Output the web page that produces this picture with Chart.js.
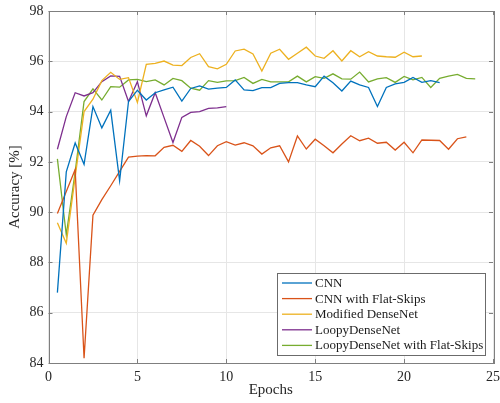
<!DOCTYPE html>
<html>
<head>
<meta charset="utf-8">
<script src="https://cdn.jsdelivr.net/npm/chart.js@4"></script>
<style>
  html, body { margin: 0; padding: 0; background: #fff; }
  #wrap { width: 500px; height: 403px; }
</style>
</head>
<body>
<div id="wrap"><canvas id="myChart"></canvas></div>
<script>
// epochs (x) for each sample, 0.5 apart
const epochs = [0.5, 1, 1.5, 2, 2.5, 3, 3.5, 4, 4.5, 5, 5.5, 6, 6.5, 7, 7.5, 8, 8.5, 9, 9.5, 10,
    10.5, 11, 11.5, 12, 12.5, 13, 13.5, 14, 14.5, 15, 15.5, 16, 16.5, 17, 17.5, 18, 18.5, 19, 19.5, 20,
    20.5, 21, 21.5, 22, 22.5, 23, 23.5, 24]

const seriesNames = ['CNN', 'CNN with Flat-Skips', 'Modified DenseNet', 'LoopyDenseNet', 'LoopyDenseNet with Flat-Skips']

const cnn = [86.8, 91.6, 92.75, 91.9, 94.2, 93.35, 94.05, 91.25, 94.4, 94.85,
    94.46, 94.75, 94.86, 94.97, 94.42, 94.92, 95.02, 94.89, 94.93, 94.96,
    95.26, 94.86, 94.83, 94.95, 94.95, 95.12, 95.15, 95.15, 95.06, 94.99,
    95.41, 95.15, 94.82, 95.21, 95.06, 94.96, 94.2, 94.96, 95.1, 95.16,
    95.36, 95.16, 95.23, 95.15]

const cnnFlat = [89.95, 90.82, 91.7, 84.19, 89.88, 90.5, 91.05, 91.62, 92.19, 92.23,
    92.25, 92.24, 92.58, 92.66, 92.42, 92.85, 92.62, 92.25, 92.64, 92.8,
    92.67, 92.76, 92.64, 92.31, 92.56, 92.64, 92.0, 93.03, 92.51, 92.9,
    92.64, 92.36, 92.71, 93.04, 92.84, 92.94, 92.74, 92.78, 92.47, 92.78,
    92.36, 92.87, 92.86, 92.85, 92.5, 92.92, 92.99]

const modDense = [89.58, 88.76, 91.4, 94.0, 94.49, 95.23, 95.56, 95.28, 95.35, 94.36,
    95.88, 95.92, 96.01, 95.85, 95.83, 96.15, 96.3, 95.79, 95.7, 95.88,
    96.41, 96.48, 96.29, 95.61, 96.32, 96.48, 96.08, 96.32, 96.56, 96.21,
    96.12, 96.42, 96.01, 96.42, 96.18, 96.38, 96.21, 96.18, 96.16, 96.36,
    96.18, 96.21]

const loopy = [92.5, 93.8, 94.75, 94.62, 94.75, 95.19, 95.42, 95.4, 94.4, 95.19,
    93.83, 94.75, 93.76, 92.77, 93.77, 93.97, 94.0, 94.13, 94.15, 94.2]

const loopyFlat = [92.12, 89.1, 91.6, 94.4, 94.9, 94.46, 94.99, 94.97, 95.26, 95.28,
    95.19, 95.26, 95.06, 95.32, 95.23, 94.93, 94.85, 95.23, 95.16, 95.22,
    95.23, 95.36, 95.12, 95.28, 95.18, 95.18, 95.18, 95.41, 95.18, 95.39,
    95.32, 95.5, 95.3, 95.29, 95.57, 95.18, 95.3, 95.35, 95.16, 95.4,
    95.26, 95.36, 94.96, 95.32, 95.41, 95.48, 95.32, 95.3]

const xTicks = [0, 5, 10, 15, 20, 25]
const yTicks = [84, 86, 88, 90, 92, 94, 96, 98]

const colors = ['#0072BD', '#D95319', '#EDB120', '#7E2F8E', '#77AC30']
const allSeries = [cnn, cnnFlat, modDense, loopy, loopyFlat]

const serif = "'Liberation Serif', 'Times New Roman', serif"
const axisGray = '#7f7f7f'

// box, inward ticks and in-plot legend, the way the original figure looks
const boxAndLegend = {
    id: 'boxAndLegend',
    afterDraw(chart) {
        const ctx = chart.ctx
        const { left, right, top, bottom } = chart.chartArea
        const xs = chart.scales.x
        const ys = chart.scales.y
        ctx.save()
        ctx.strokeStyle = axisGray
        ctx.lineWidth = 1
        ctx.strokeRect(Math.round(left) + 0.5, Math.round(top) + 0.5, Math.round(right - left), Math.round(bottom - top))
        const tl = 4
        ctx.beginPath()
        xTicks.forEach(v => {
            const px = Math.round(xs.getPixelForValue(v)) + 0.5
            ctx.moveTo(px, bottom); ctx.lineTo(px, bottom - tl)
            ctx.moveTo(px, top); ctx.lineTo(px, top + tl)
        })
        yTicks.forEach(v => {
            const py = Math.round(ys.getPixelForValue(v)) + 0.5
            ctx.moveTo(left, py); ctx.lineTo(left + tl, py)
            ctx.moveTo(right, py); ctx.lineTo(right - tl, py)
        })
        ctx.stroke()

        // legend
        const lx = 277, ly = 273, lw = 208, lh = 82
        ctx.fillStyle = '#fff'
        ctx.fillRect(lx, ly, lw, lh)
        ctx.strokeStyle = '#6b6b6b'
        ctx.strokeRect(lx + 0.5, ly + 0.5, lw, lh)
        ctx.font = '13px ' + serif
        ctx.textBaseline = 'middle'
        chart.data.datasets.forEach((ds, i) => {
            const cy = ly + 10 + i * 15.6
            ctx.strokeStyle = ds.borderColor
            ctx.lineWidth = 1.3
            ctx.beginPath()
            ctx.moveTo(lx + 5, cy); ctx.lineTo(lx + 35, cy)
            ctx.stroke()
            ctx.fillStyle = '#1a1a1a'
            ctx.fillText(ds.label, lx + 38, cy + 0.5)
        })
        ctx.restore()
    }
}

const ctx = document.getElementById('myChart')

new Chart(ctx, {
    type: 'line',
    data: {
        datasets: allSeries.map((vals, i) => ({
            label: seriesNames[i],
            data: vals.map((v, j) => ({ x: epochs[j], y: v })),
            borderColor: colors[i],
            backgroundColor: colors[i],
            borderWidth: 1.3,
            pointRadius: 0,
            tension: 0,
            fill: false,
        }))
    },
    options: {
        responsive: true,
        maintainAspectRatio: false,
        animation: false,
        layout: { padding: { top: 11, right: 7, left: 0, bottom: 0 } },
        plugins: {
            legend: { display: false },
            tooltip: { enabled: false },
        },
        scales: {
            x: {
                type: 'linear',
                min: 0,
                max: 25,
                afterFit: s => { s.height = 40; s.paddingLeft = 0; s.paddingRight = 0 },
                afterBuildTicks: s => { s.ticks = xTicks.map(v => ({ value: v })) },
                grid: { color: '#e6e6e6', drawTicks: false },
                border: { display: false },
                ticks: { color: '#262626', font: { family: serif, size: 14 }, padding: 6, maxRotation: 0 },
                title: { display: true, text: 'Epochs', color: '#262626', font: { family: serif, size: 15 }, padding: { top: 3 } },
            },
            y: {
                min: 84,
                max: 98,
                afterFit: s => { s.width = 48.5; s.paddingTop = 0; s.paddingBottom = 0 },
                afterBuildTicks: s => { s.ticks = yTicks.map(v => ({ value: v })) },
                grid: { color: '#e6e6e6', drawTicks: false },
                border: { display: false },
                ticks: { color: '#262626', font: { family: serif, size: 14 }, padding: 5 },
                title: { display: true, text: 'Accuracy [%]', color: '#262626', font: { family: serif, size: 15 }, padding: { top: 6, bottom: 0 } },
            }
        }
    },
    plugins: [boxAndLegend]
})
</script>
</body>
</html>
